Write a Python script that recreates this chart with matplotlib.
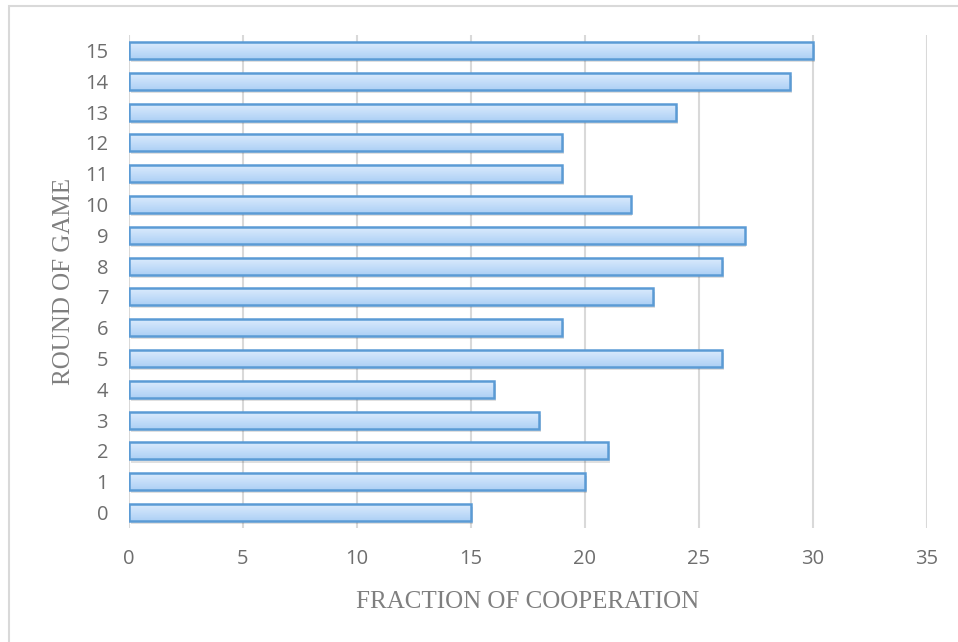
import matplotlib.pyplot as plt
import numpy as np
from matplotlib.patches import Rectangle
from matplotlib.colors import LinearSegmentedColormap

# Data
rounds = list(range(16))
cooperation = [15, 20, 21, 18, 16, 26, 19, 23, 26, 27, 22, 19, 19, 24, 29, 30]
x_ticks = [0, 5, 10, 15, 20, 25, 30, 35]

edge_color = '#5b9bd5'
grad = LinearSegmentedColormap.from_list('bar', ['#add0f5', '#dbebfd'])
bar_h = 0.55

fig = plt.figure(figsize=(9.58, 6.42), dpi=100)
ax = fig.add_axes([129 / 958, 1 - 528 / 642, (927 - 129) / 958, (528 - 35) / 642])

# outer frame (cut off at right and bottom, like the screenshot)
fig.patches.append(Rectangle((9 / 958, -0.1), 1.2, 1 - 6 / 642 + 0.1,
                             transform=fig.transFigure, fill=False,
                             edgecolor='#d9d9d9', lw=1.5))

gradient = np.linspace(0, 1, 64).reshape(-1, 1)
for r, v in zip(rounds, cooperation):
    # soft shadow under each bar
    ax.add_patch(Rectangle((0.08, r - bar_h / 2 - 0.1), v, bar_h,
                           facecolor='#000000', alpha=0.12, lw=0, zorder=2))
    ax.imshow(gradient, cmap=grad, aspect='auto', origin='lower',
              extent=(0, v, r - bar_h / 2, r + bar_h / 2), zorder=3)
    ax.add_patch(Rectangle((0, r - bar_h / 2), v, bar_h, fill=False,
                           edgecolor=edge_color, lw=1.8, zorder=4))

ax.set_xlim(0, 35)
ax.set_ylim(-0.5, 15.5)
ax.set_xticks(x_ticks)
ax.set_yticks(rounds)
ax.xaxis.grid(True, color='#d9d9d9', lw=1.5, zorder=0)
ax.set_axisbelow(True)
for s in ax.spines.values():
    s.set_visible(False)
ax.tick_params(length=0, labelsize=14.5, labelcolor='#6e6e6e')
ax.tick_params(axis='x', pad=15)
ax.tick_params(axis='y', pad=15)
for lab in ax.get_xticklabels() + ax.get_yticklabels():
    lab.set_family('Open Sans')

ax.set_xlabel('FRACTION OF COOPERATION', family='Liberation Serif',
              fontsize=18, color='#7f7f7f', labelpad=16)
ax.set_ylabel('ROUND OF GAME', family='Liberation Serif',
              fontsize=18, color='#7f7f7f', labelpad=7)

fig.savefig('out.png', dpi=100)
